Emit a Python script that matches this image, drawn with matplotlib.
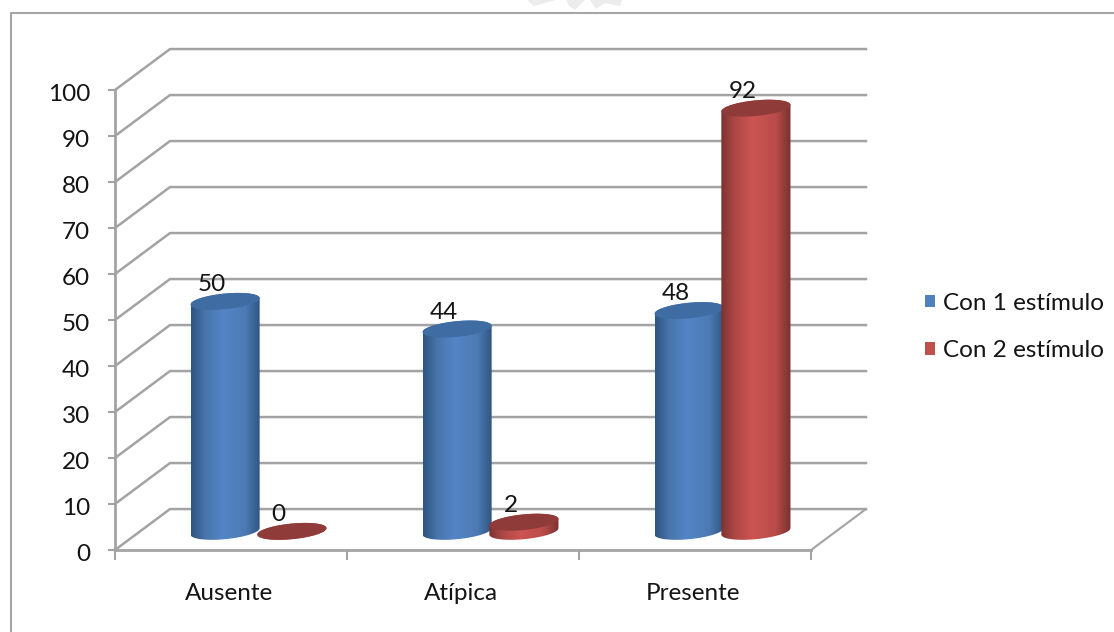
import numpy as np
import matplotlib
matplotlib.use("Agg")
import matplotlib.pyplot as plt
from matplotlib.colors import LinearSegmentedColormap
from matplotlib.patches import Patch, Polygon
from matplotlib.transforms import ScaledTranslation

# ---Data---
categories = ["Ausente", "Atípica", "Presente"]
series_names = ["Con 1 estímulo", "Con 2 estímulo"]
con_1 = [50, 44, 48]
con_2 = [0, 2, 92]
y_ticks = list(range(0, 101, 10))

# ---Configuration---
WIDTH, HEIGHT = 1114, 632
GRID = "#a3a3a3"
TEXT = "#141414"
FONT = "Lato"
FONT_SIZE = 17.5
depth_x = 0.237   # chart depth, in category units
depth_y = 8.9     # chart depth, in value units
base_y = 4.05     # where the cylinders stand on the floor
half_w = 0.149
ell_b = 1.7       # ellipse half height
ell_k = 0.7       # ellipse tilt
bar_shift = 0.144

blue_map = LinearSegmentedColormap.from_list(
    "blue3d", [(0, "#2f5581"), (0.2, "#4874aa"), (0.45, "#5485c6"), (0.78, "#4c7ab4"), (1, "#2e5480")])
red_map = LinearSegmentedColormap.from_list(
    "red3d", [(0, "#7c3432"), (0.2, "#ae4845"), (0.45, "#cc5452"), (0.78, "#ba4d4a"), (1, "#79302f")])
blue_top = "#3f6ca3"
red_top = "#8f3b39"


def ellipse_pts(cx, cy, t):
    return np.column_stack([cx + half_w * np.cos(t),
                            cy + ell_b * np.sin(t) + ell_k * np.cos(t)])


def draw_cylinder(ax, cx, value, cmap, top_color):
    top = base_y + value
    lower = ellipse_pts(cx, base_y, np.linspace(np.pi, 2 * np.pi, 40))
    upper = ellipse_pts(cx, top, np.linspace(0, np.pi, 40))
    outline = Polygon(np.vstack([lower, upper]), closed=True, transform=ax.transData,
                      fc="none", ec="none")
    ax.add_patch(outline)
    gradient = np.linspace(0, 1, 128).reshape(1, -1)
    img = ax.imshow(gradient, cmap=cmap, aspect="auto", zorder=3, interpolation="bilinear",
                    extent=(cx - half_w, cx + half_w, base_y - 3, top + 3), clip_on=True)
    img.set_clip_path(outline)
    cap = ellipse_pts(cx, top, np.linspace(0, 2 * np.pi, 80))
    ax.add_patch(Polygon(cap, closed=True, fc=top_color, ec="none", zorder=3, clip_on=False))
    ax.annotate(str(value), (cx, top), xytext=(-9.5, 12), textcoords="offset points",
                ha="center", va="center", fontsize=FONT_SIZE, color=TEXT, family=FONT,
                zorder=5, annotation_clip=False)


def main():
    fig = plt.figure(figsize=(WIDTH / 100, HEIGHT / 100), dpi=100)
    ax = fig.add_axes([115 / WIDTH, 1 - 550 / HEIGHT, 696 / WIDTH, 460 / HEIGHT])

    # outer chart frame, open on the right and at the bottom
    frame_x = [11 / WIDTH, 11 / WIDTH, 1]
    frame_y = [0, 1 - 13 / HEIGHT, 1 - 13 / HEIGHT]
    fig.add_artist(plt.Line2D(frame_x, frame_y, color="#a6a6a6", lw=1.5))

    # faint mark cut off by the top edge
    for pts in ([(527, 0), (556, 0), (534, 6)], [(566, 0), (585, 0), (575, 10), (569, 6)],
                [(590, 0), (622, 0), (620, 6), (605, 3), (596, 9)]):
        fig.add_artist(Polygon([(x / WIDTH, 1 - y / HEIGHT) for x, y in pts],
                               closed=True, fc="#ececec", ec="none"))

    ax.set_xlim(0, 3)
    ax.set_ylim(0, 100)
    for side in ["top", "right"]:
        ax.spines[side].set_visible(False)
    for side in ["left", "bottom"]:
        ax.spines[side].set_color(GRID)
        ax.spines[side].set_linewidth(2)

    # walls and floor
    for v in y_ticks:
        ax.plot([0, depth_x, 3 + depth_x], [v, v + depth_y, v + depth_y],
                color=GRID, lw=1.8, zorder=1, clip_on=False, solid_joinstyle="miter")
    ax.plot([3, 3 + depth_x], [0, depth_y], color=GRID, lw=1.5, zorder=1, clip_on=False)

    for i in range(len(categories)):
        center = i + 0.5 + depth_x / 2
        draw_cylinder(ax, center - bar_shift, con_1[i], blue_map, blue_top)
        draw_cylinder(ax, center + bar_shift, con_2[i], red_map, red_top)

    # imshow resets the limits
    ax.set_xlim(0, 3)
    ax.set_ylim(0, 100)
    ax.patch.set_alpha(0)

    ax.set_yticks(y_ticks)
    ax.set_xticks(range(len(categories) + 1))
    ax.set_xticklabels([])
    ax.tick_params(axis="y", length=5, width=1.5, color=GRID, pad=13, labelsize=FONT_SIZE,
                   labelcolor=TEXT)
    ax.tick_params(axis="x", length=7, width=1.5, color=GRID)
    nudge = ScaledTranslation(0, -1.5 / 72, fig.dpi_scale_trans)
    for label in ax.get_yticklabels():
        label.set_family(FONT)
        label.set_verticalalignment("center_baseline")
        label.set_transform(label.get_transform() + nudge)
    ax.set_xticks([i + 0.49 for i in range(len(categories))], minor=True)
    ax.set_xticklabels(categories, minor=True, family=FONT, fontsize=FONT_SIZE, color=TEXT)
    ax.tick_params(axis="x", which="minor", length=0, pad=23.5)

    handles = [Patch(fc="#4f81bd", ec="none", label=series_names[0]),
               Patch(fc="#c0504d", ec="none", label=series_names[1])]
    fig.legend(handles=handles, loc="center left", bbox_to_anchor=(925 / WIDTH, 1 - 327 / HEIGHT),
               frameon=False, prop={"family": FONT, "size": FONT_SIZE}, labelcolor=TEXT,
               handlelength=0.42, handleheight=0.42, handletextpad=0.33, labelspacing=1.1,
               borderpad=0, borderaxespad=0)

    fig.savefig("out.png", dpi=100)


if __name__ == "__main__":
    main()
